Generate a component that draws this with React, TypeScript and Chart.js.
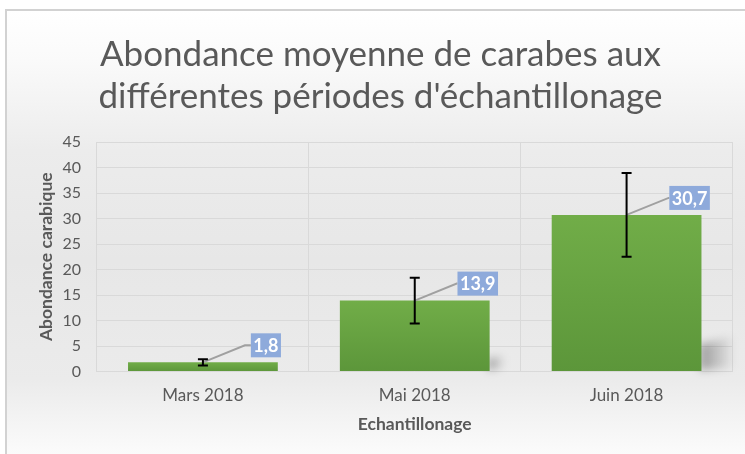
import React, { useEffect, useRef } from 'react';
import { Chart, registerables } from 'chart.js';

Chart.register(...registerables);

const categories = ['Mars 2018', 'Mai 2018', 'Juin 2018'];
const meanAbundance = [1.8, 13.9, 30.7];
const errorMargin = [0.6, 4.5, 8.2];
const valueLabels = ['1,8', '13,9', '30,7'];
const yTickValues = [0, 5, 10, 15, 20, 25, 30, 35, 40, 45];
const chartTitle = ['Abondance moyenne de carabes aux', "différentes périodes d'échantillonage"];
const xAxisTitle = 'Echantillonage';
const yAxisTitle = 'Abondance carabique';

const FONT = 'Lato, "Open Sans", sans-serif';
const TEXT = '#595959';

const backgroundPlugin = {
  id: 'bgFrame',
  beforeDraw(chart: any) {
    const { ctx, width, height } = chart;
    ctx.save();
    ctx.fillStyle = '#ffffff';
    ctx.fillRect(0, 0, width, height);
    const g = ctx.createLinearGradient(0, 10, 0, height);
    const stop = (y: number) => Math.min(1, Math.max(0, (y - 10) / (height - 10)));
    g.addColorStop(0, '#ffffff');
    g.addColorStop(stop(60), '#fafafa');
    g.addColorStop(stop(150), '#ececec');
    g.addColorStop(stop(260), '#e7e7e7');
    g.addColorStop(stop(380), '#ebebeb');
    g.addColorStop(1, '#fbfbfb');
    ctx.fillStyle = g;
    ctx.fillRect(7, 10, width, height);
    ctx.strokeStyle = '#d2d2d2';
    ctx.lineWidth = 2;
    ctx.strokeRect(6, 10, width + 20, height + 20);
    ctx.restore();
  },
};

const titlePlugin = {
  id: 'centredTitle',
  afterDraw(chart: any) {
    const { ctx } = chart;
    ctx.save();
    ctx.fillStyle = TEXT;
    ctx.font = `35px ${FONT}`;
    ctx.textAlign = 'center';
    ctx.textBaseline = 'middle';
    chartTitle.forEach((line, i) => {
      ctx.fillText(line, 380.5, 55 + i * 42);
    });
    ctx.restore();
  },
};

const shadowPlugin = {
  id: 'barShadow',
  beforeDatasetsDraw(chart: any) {
    const { ctx } = chart;
    const meta = chart.getDatasetMeta(0);
    ctx.save();
    ctx.filter = 'blur(4px)';
    meta.data.forEach((el: any) => {
      const h = el.base - el.y;
      const right = el.x + el.width / 2;
      const w = Math.min(34, 0.2 * h);
      if (w < 4) return;
      const g = ctx.createLinearGradient(right, 0, right + w, 0);
      g.addColorStop(0, 'rgba(0,0,0,0.32)');
      g.addColorStop(1, 'rgba(0,0,0,0.02)');
      ctx.fillStyle = g;
      ctx.beginPath();
      ctx.moveTo(right - 2, el.base - 1);
      ctx.lineTo(right - 2, el.base - 0.17 * h);
      ctx.lineTo(right + w, el.base - 0.22 * h);
      ctx.lineTo(right + w, el.base - 3);
      ctx.closePath();
      ctx.fill();
    });
    ctx.restore();
  },
};

const annotationPlugin = {
  id: 'errorsAndLabels',
  afterDatasetsDraw(chart: any) {
    const { ctx } = chart;
    const yScale = chart.scales.y;
    const meta = chart.getDatasetMeta(0);
    ctx.save();
    ctx.font = `bold 18px ${FONT}`;
    // leader lines
    meta.data.forEach((el: any, i: number) => {
      const x = el.x;
      const y = el.y;
      const bw = ctx.measureText(valueLabels[i]).width + 5;
      const cx = x + 63;
      const cy = y - 17;
      ctx.strokeStyle = '#a0a0a0';
      ctx.lineWidth = 2;
      ctx.beginPath();
      ctx.moveTo(x, y);
      ctx.lineTo(x + 42, cy);
      ctx.lineTo(cx - bw / 2, cy);
      ctx.stroke();
    });
    // error bars
    meta.data.forEach((el: any, i: number) => {
      const x = el.x;
      const top = yScale.getPixelForValue(meanAbundance[i] + errorMargin[i]);
      const bot = yScale.getPixelForValue(meanAbundance[i] - errorMargin[i]);
      ctx.strokeStyle = '#000000';
      ctx.lineWidth = 2;
      ctx.beginPath();
      ctx.moveTo(x, top);
      ctx.lineTo(x, bot);
      ctx.moveTo(x - 5, top);
      ctx.lineTo(x + 5, top);
      ctx.moveTo(x - 5, bot);
      ctx.lineTo(x + 5, bot);
      ctx.stroke();
    });
    // label boxes
    meta.data.forEach((el: any, i: number) => {
      const x = el.x;
      const y = el.y;
      const bw = ctx.measureText(valueLabels[i]).width + 5;
      const bh = 24;
      const cx = x + 63;
      const cy = y - 17;
      ctx.fillStyle = '#8eaadb';
      ctx.fillRect(cx - bw / 2, cy - bh / 2, bw, bh);
      ctx.fillStyle = '#ffffff';
      ctx.textAlign = 'center';
      ctx.textBaseline = 'middle';
      ctx.fillText(valueLabels[i], cx, cy + 1);
    });
    ctx.restore();
  },
};

export default function App() {
  const canvasRef = useRef<HTMLCanvasElement | null>(null);

  useEffect(() => {
    document.body.style.margin = '0';
    const canvas = canvasRef.current;
    if (!canvas) return;
    const chart = new Chart(canvas, {
      type: 'bar',
      data: {
        labels: categories,
        datasets: [
          {
            data: meanAbundance,
            backgroundColor: (c: any) => {
              const chartObj = c.chart;
              const ys = chartObj.scales && chartObj.scales.y;
              if (!ys || c.dataIndex === undefined) return '#6aa842';
              const top = ys.getPixelForValue(meanAbundance[c.dataIndex]);
              const base = ys.getPixelForValue(0);
              if (!isFinite(top) || !isFinite(base) || base - top < 1) return '#6aa842';
              const g = chartObj.ctx.createLinearGradient(0, top, 0, base);
              g.addColorStop(0, '#71ad48');
              g.addColorStop(1, '#5c963a');
              return g;
            },
            borderWidth: 0,
            categoryPercentage: 1,
            barPercentage: 0.707,
          },
        ],
      },
      options: {
        animation: false,
        responsive: true,
        maintainAspectRatio: false,
        layout: { padding: { left: 0, right: 12.5, top: 142, bottom: 0 } },
        plugins: {
          legend: { display: false },
          tooltip: { enabled: false },
          title: { display: false },
        },
        scales: {
          x: {
            grid: { color: '#d9d9d9', lineWidth: 1, drawTicks: false, offset: true },
            border: { display: false },
            ticks: { color: TEXT, font: { family: FONT, size: 17 }, padding: 13.5 },
            title: {
              display: true,
              text: xAxisTitle,
              color: TEXT,
              font: { family: FONT, size: 17.5, weight: 'bold' },
              padding: { top: 0, bottom: 19.5 },
            },
            afterFit: (scale: any) => {
              scale.height = 82.5;
            },
          },
          y: {
            min: 0,
            max: 45,
            grid: { color: '#d9d9d9', lineWidth: 1, drawTicks: false },
            border: { display: false },
            ticks: { color: TEXT, font: { family: FONT, size: 16 }, padding: 16 },
            afterBuildTicks: (scale: any) => {
              scale.ticks = yTickValues.map((v) => ({ value: v }));
            },
            title: {
              display: true,
              text: yAxisTitle,
              color: TEXT,
              font: { family: FONT, size: 17.5, weight: 'bold' },
              padding: { top: 35.5, bottom: 0 },
            },
            afterFit: (scale: any) => {
              scale.width = 97;
            },
          },
        },
      },
      plugins: [backgroundPlugin, shadowPlugin, annotationPlugin, titlePlugin],
    });
    return () => chart.destroy();
  }, []);

  return (
    <div style={{ width: 745, height: 454, position: 'relative' }}>
      <canvas ref={canvasRef} />
    </div>
  );
}
